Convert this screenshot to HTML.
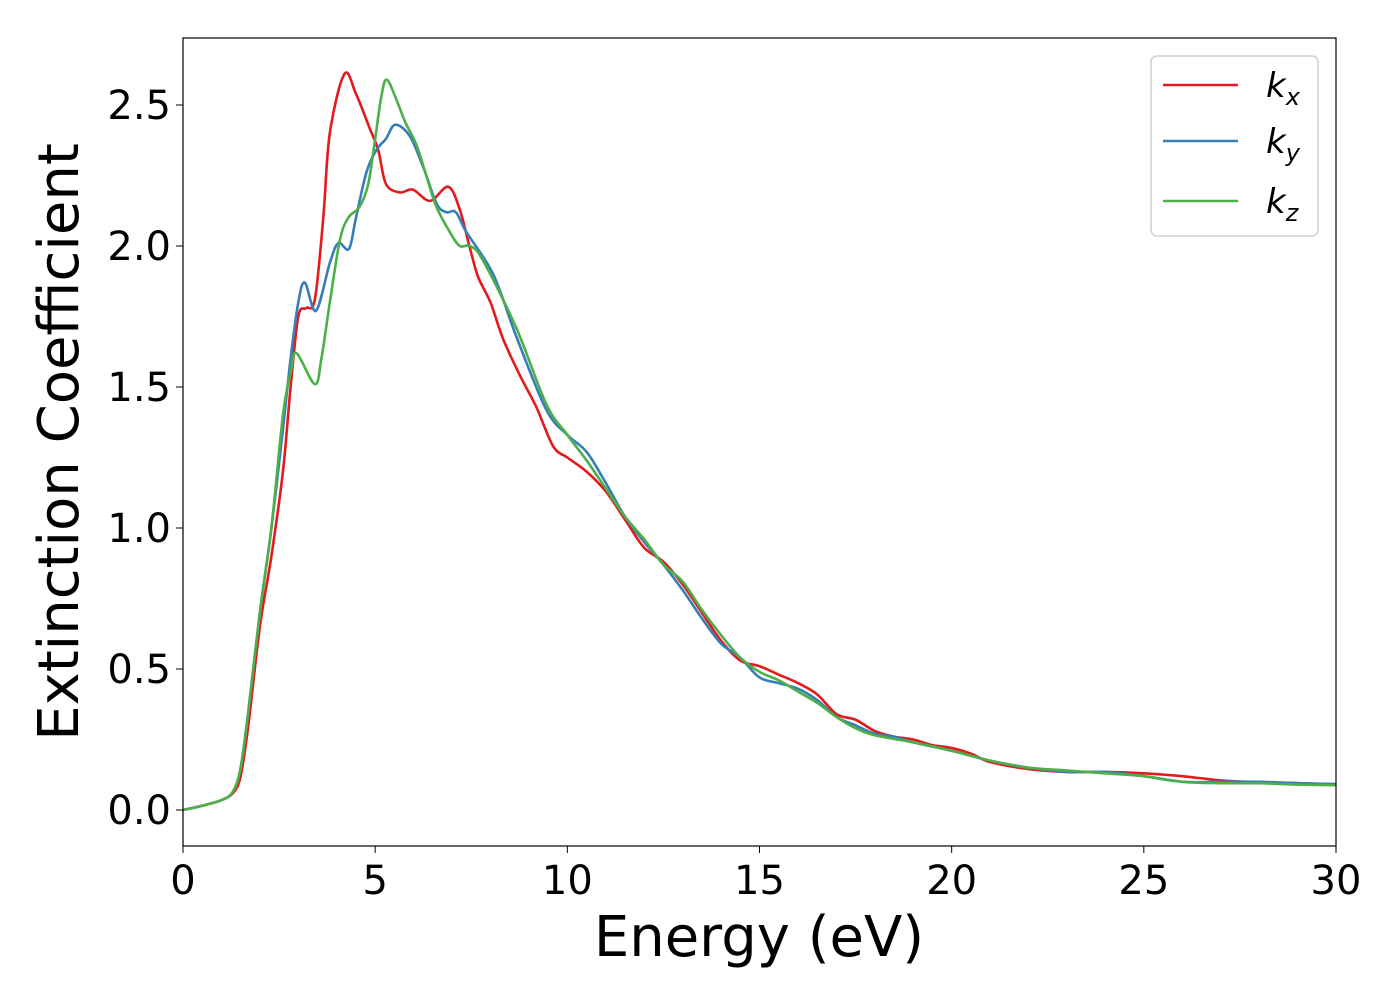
<!DOCTYPE html>
<html><head><meta charset="utf-8"><style>
body{margin:0;background:#fff;}
svg{display:block;font-family:"DejaVu Sans","Liberation Sans",sans-serif;}
</style></head><body>
<svg id="chart" width="1400" height="1000" viewBox="0 0 1400 1000" xmlns="http://www.w3.org/2000/svg">
<rect width="1400" height="1000" fill="#fff"/>
<g id="series"></g>
<rect x="183" y="38" width="1153" height="808" fill="none" stroke="#000" stroke-width="1.2"/>
<g id="xticks"></g>
<g id="yticks"></g>
<text x="759" y="956" font-size="56" text-anchor="middle">Energy (eV)</text>
<text transform="translate(78,442) rotate(-90)" font-size="56" text-anchor="middle">Extinction Coefficient</text>
<g>
<rect x="1151" y="56" width="167" height="180" rx="6" fill="#fff" stroke="#d0d0d0" stroke-width="1.5"/>
<line x1="1163" y1="85" x2="1238" y2="85" stroke="#e41a1c" stroke-width="2.5"/>
<text x="1266" y="97" font-size="34" font-style="italic">k<tspan font-size="24" dy="8">x</tspan></text>
<line x1="1163" y1="141" x2="1238" y2="141" stroke="#377eb8" stroke-width="2.5"/>
<text x="1266" y="153" font-size="34" font-style="italic">k<tspan font-size="24" dy="8">y</tspan></text>
<line x1="1163" y1="201" x2="1238" y2="201" stroke="#4daf4a" stroke-width="2.5"/>
<text x="1266" y="213" font-size="34" font-style="italic">k<tspan font-size="24" dy="8">z</tspan></text>
</g>
</svg>
<script>
const xTicks=[0,5,10,15,20,25,30];
const yTicks=[0,0.5,1.0,1.5,2.0,2.5];
const kxE=[0,0.5,1.0,1.3,1.5,1.7,2.0,2.3,2.6,2.8,3.0,3.2,3.43,3.65,3.82,4.2,4.5,4.85,5.08,5.28,5.64,5.98,6.43,6.9,7.2,7.47,7.68,8.0,8.33,8.77,9.19,9.63,10,10.5,11,11.5,12,12.5,13,13.5,14,14.5,15,15.5,16,16.5,17,17.5,18,18.5,19,19.5,20,20.5,21,22,23,24,25,26,27,28,29,30];
const kxV=[0,0.015,0.035,0.06,0.12,0.3,0.65,0.9,1.2,1.5,1.75,1.78,1.81,2.1,2.4,2.61,2.54,2.42,2.34,2.22,2.19,2.2,2.16,2.21,2.13,1.99,1.89,1.8,1.67,1.54,1.43,1.29,1.25,1.2,1.13,1.03,0.93,0.88,0.8,0.7,0.6,0.53,0.51,0.48,0.45,0.41,0.34,0.32,0.28,0.26,0.25,0.23,0.22,0.2,0.17,0.145,0.135,0.135,0.13,0.12,0.105,0.098,0.095,0.09];
const kyE=[0,0.5,1.0,1.3,1.5,1.7,2.0,2.3,2.6,2.8,3.0,3.17,3.46,3.82,4.04,4.32,4.5,4.77,5.03,5.28,5.52,5.9,6.25,6.6,6.85,7.1,7.37,8.07,8.67,9.45,10,10.5,11,11.5,12,12.5,13,13.5,14,14.5,15,15.5,16,16.5,17,17.5,18,18.5,19,20,21,22,23,24,25,26,27,28,29,30];
const kyV=[0,0.015,0.035,0.065,0.15,0.35,0.7,1.0,1.35,1.6,1.8,1.87,1.77,1.94,2.01,1.99,2.1,2.26,2.34,2.38,2.43,2.39,2.28,2.15,2.12,2.12,2.05,1.9,1.68,1.42,1.33,1.27,1.16,1.04,0.95,0.87,0.78,0.68,0.59,0.54,0.47,0.45,0.43,0.39,0.33,0.3,0.27,0.26,0.24,0.21,0.175,0.15,0.135,0.135,0.12,0.1,0.1,0.1,0.095,0.092];
const kzE=[0,0.5,1.0,1.3,1.5,1.7,2.0,2.3,2.6,2.8,2.95,3.43,3.6,3.82,4.08,4.3,4.6,4.82,5.0,5.16,5.3,5.55,5.78,6.07,6.33,6.59,6.94,7.2,7.47,7.8,8.67,9.45,10,10.5,11,11.5,12,12.5,13,13.5,14,14.5,15,15.5,16,16.5,17,17.5,18,19,20,21,22,23,24,25,26,27,28,29,30];
const kzV=[0,0.015,0.035,0.065,0.15,0.35,0.7,1.0,1.4,1.55,1.62,1.51,1.6,1.8,2.02,2.1,2.14,2.22,2.38,2.53,2.59,2.52,2.44,2.36,2.25,2.14,2.05,2.0,2.0,1.95,1.71,1.44,1.33,1.24,1.14,1.04,0.96,0.87,0.81,0.71,0.62,0.54,0.49,0.46,0.42,0.38,0.33,0.29,0.265,0.24,0.21,0.175,0.15,0.14,0.13,0.12,0.1,0.095,0.095,0.09,0.088];
const X0=183,X1=1336,Y0=846,Y1=38,xmin=0,xmax=30,ymin=-0.1277,ymax=2.7376;
function sx(v){return X0+(v-xmin)/(xmax-xmin)*(X1-X0);}
function sy(v){return Y0-(v-ymin)/(ymax-ymin)*(Y0-Y1);}
const NS="http://www.w3.org/2000/svg";
function pathFrom(E,V){
  const p=E.map((e,i)=>[sx(e),sy(V[i])]);
  let d="M"+p[0][0].toFixed(2)+","+p[0][1].toFixed(2);
  for(let i=0;i<p.length-1;i++){
    const a=p[Math.max(0,i-1)],b=p[i],c=p[i+1],e=p[Math.min(p.length-1,i+2)];
    const c1=[b[0]+(c[0]-a[0])/6,b[1]+(c[1]-a[1])/6];
    const c2=[c[0]-(e[0]-b[0])/6,c[1]-(e[1]-b[1])/6];
    d+="C"+c1.map(v=>v.toFixed(2)).join(",")+" "+c2.map(v=>v.toFixed(2)).join(",")+" "+c[0].toFixed(2)+","+c[1].toFixed(2);
  }
  return d;
}
const g=document.getElementById("series");
[[kxE,kxV,"#e41a1c","series-kx"],[kyE,kyV,"#377eb8","series-ky"],[kzE,kzV,"#4daf4a","series-kz"]].forEach(s=>{
  const el=document.createElementNS(NS,"path");
  el.setAttribute("d",pathFrom(s[0],s[1]));
  el.setAttribute("fill","none");el.setAttribute("stroke",s[2]);el.setAttribute("stroke-width","2.6");
  
  
  g.appendChild(el);
});
const xg=document.getElementById("xticks");
xTicks.forEach(t=>{
  const l=document.createElementNS(NS,"line");
  l.setAttribute("x1",sx(t));l.setAttribute("x2",sx(t));l.setAttribute("y1",Y0);l.setAttribute("y2",Y0+7);l.setAttribute("stroke","#000");
  
  
  xg.appendChild(l);
  const tx=document.createElementNS(NS,"text");
  tx.setAttribute("x",sx(t));tx.setAttribute("y",Y0+48);tx.setAttribute("font-size","40");tx.setAttribute("text-anchor","middle");
  tx.textContent=String(t);
  
  
  xg.appendChild(tx);
});
const yg=document.getElementById("yticks");
yTicks.forEach(t=>{
  const l=document.createElementNS(NS,"line");
  l.setAttribute("x1",X0-7);l.setAttribute("x2",X0);l.setAttribute("y1",sy(t));l.setAttribute("y2",sy(t));l.setAttribute("stroke","#000");
  
  
  yg.appendChild(l);
  const tx=document.createElementNS(NS,"text");
  tx.setAttribute("x",X0-12);tx.setAttribute("y",sy(t)+14);tx.setAttribute("font-size","40");tx.setAttribute("text-anchor","end");
  tx.textContent=t.toFixed(1);
  
  
  yg.appendChild(tx);
});
</script>
</body></html>
